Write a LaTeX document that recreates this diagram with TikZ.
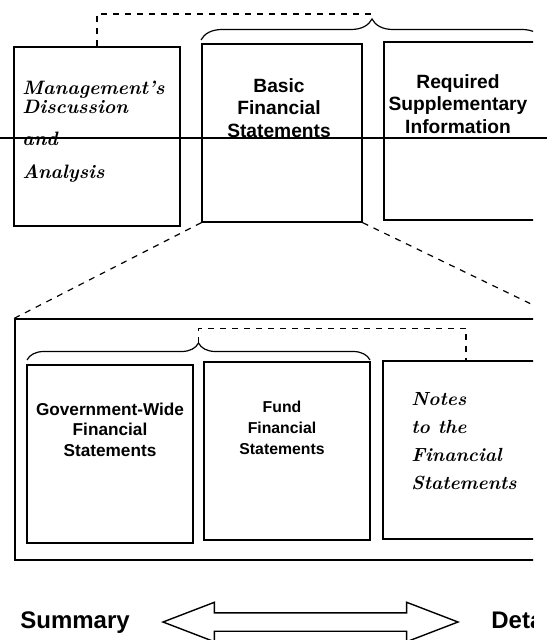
\documentclass[tikz,border=0pt]{standalone}
\usepackage{fontspec}
\setsansfont{Liberation Sans}
\usetikzlibrary{shapes,arrows,calc,positioning,decorations.pathreplacing}

\begin{document}
\begin{tikzpicture}[x=0.5pt,y=-0.5pt,
	box/.style={draw,line width=0.7pt,inner sep=0pt,minimum width=83pt,minimum height=89pt},
	sans/.style={inner sep=0pt,align=center,anchor=north,font=\sffamily\bfseries\fontsize{9.6}{11.25}\selectfont},
	small/.style={sans,font=\sffamily\bfseries\fontsize{8.6}{10.25}\selectfont},
	script/.style={inner sep=0pt,align=left,anchor=north west,font=\bfseries\itshape\fontsize{9.6}{14}\selectfont},
	dashline/.style={dash pattern=on 3pt off 3pt,line width=0.6pt},
	curly/.style={decorate,decoration={brace,amplitude=#1},line width=0.6pt}]
\useasboundingbox (0,0) rectangle (547,640);
\draw[line width=0.7pt] (0,138) -- (547,138);
\begin{scope}
\clip (0,0) rectangle (533,640);
% upper row
\node[box,minimum height=89.5pt] at (97,136.5) (mda) {};
\node[box,minimum width=80pt] at (282,133) (bfs) {};
\node[box,minimum width=76pt] at (460,131) (rsi) {};
\node[script,font=\bfseries\itshape\fontsize{9.7}{9.5}\selectfont] at (22,81) (mdat) {Management's\\Discussion\\[6.5pt]and\\[7pt]Analysis};
\node[sans] at (279,78) (bfst) {Basic\\Financial\\Statements};
\node[sans] at (458,74) (rsit) {Required\\Supplementary\\Information};
\coordinate (b1) at (201,40);
\coordinate (b2) at (543,40);
\draw[curly=10.5pt] (b1) -- (b2);
\coordinate (t1) at ($(b1)!0.5!(b2)+(0,-21)$);
\draw[dashline] (mda.north) |- ($(t1)+(0,-5)$) -- (t1);
% basic statements, zoomed
\node[box,minimum width=272.5pt,minimum height=120.5pt] at (287.5,439.5) (big) {};
\draw[dashline] (bfs.south west) -- (big.north west);
\draw[dashline] (bfs.south east) -- (big.north east);
\foreach \n/\x/\y in {gw/110/454,fund/287/451,notes/466/450}
	\node[box] at (\x,\y) (\n) {};
\node[small] at (110,402.5) (gwt) {Government-Wide\\Financial\\Statements};
\node[small,font=\sffamily\bfseries\fontsize{7.9}{10.5}\selectfont] at (282,401) (fundt) {Fund\\Financial\\Statements};
\node[script,font=\bfseries\itshape\fontsize{9.5}{14}\selectfont] at (411,392) (notest) {Notes\\to the\\Financial\\Statements};
\coordinate (b3) at (27,360);
\coordinate (b4) at (370,360);
\draw[curly=8.5pt] (b3) -- (b4);
\coordinate (t2) at ($(b3)!0.5!(b4)+(0,-17)$);
\draw[dashline] (t2) |- ($(notes.north)+(0,-32)$) -- (notes.north);
% scale
\node[font=\sffamily\bfseries\fontsize{12}{14}\selectfont,anchor=base west,inner sep=0pt] at (20,628) (sum) {Summary};
\node[font=\sffamily\bfseries\fontsize{12}{14}\selectfont,anchor=base west,inner sep=0pt] at (491,628) (det) {Detail};
\node[draw,double arrow,line width=0.7pt,inner sep=0pt,text height=4.25pt,text depth=4.25pt,minimum height=147.5pt,
	minimum width=19pt,double arrow head extend=5.25pt,double arrow tip angle=42] at (310.5,622) (arr) {};
\end{scope}
\end{tikzpicture}
\end{document}
